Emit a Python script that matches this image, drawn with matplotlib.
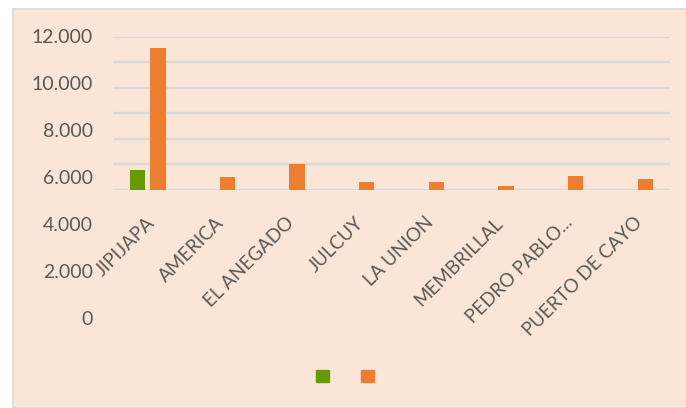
import matplotlib.pyplot as plt
from matplotlib.patches import Rectangle
from matplotlib.transforms import ScaledTranslation
import numpy as np

# Parroquias y valores por serie
parroquias = ["JIPIJAPA", "AMERICA", "EL ANEGADO", "JULCUY", "LA UNION",
              "MEMBRILLAL", "PEDRO PABLO...", "PUERTO DE CAYO"]
serie_verde = [1530, 0, 0, 0, 0, 0, 0, 0]
serie_naranja = [11070, 955, 2000, 565, 560, 300, 1060, 820]
eje_y = [0, 2000, 4000, 6000, 8000, 10000, 12000]
eje_y_textos = ["0", "2.000", "4.000", "6.000", "8.000", "10.000", "12.000"]

fondo = "#FBE5D6"
verde = "#669B00"
naranja = "#ED7D31"
gris_texto = "#595959"

plt.rcParams['font.family'] = ['Lato', 'DejaVu Sans']

fig = plt.figure(figsize=(6.86, 4.08), dpi=100)
fig.patch.set_facecolor("white")

# panel del grafico (detras de los ejes)
fig.patches.append(Rectangle((13 / 686, 0), 1, 1 - 9 / 408, transform=fig.transFigure,
                             facecolor=fondo, edgecolor="#D9D9D9", linewidth=1.2, zorder=-5))

ax = fig.add_axes([113 / 686, 1 - 189.5 / 408, 557 / 686, 153 / 408])
ax.set_facecolor("none")
x = np.arange(len(parroquias))
w = 0.22
ax.bar(x - 0.145, serie_verde, w, color=verde, zorder=3)
ax.bar(x + 0.145, serie_naranja, w, color=naranja, zorder=3)
ax.set_xlim(-0.5, len(parroquias) - 0.5)
ax.set_ylim(0, 12000)
ax.set_yticks(eje_y)
ax.set_yticklabels([])
ax.grid(axis="y", color="#D9D9D9", linewidth=1.6, zorder=0)
for s in ax.spines.values():
    s.set_visible(False)
ax.tick_params(length=0)
ax.set_xticks(x)
ax.set_xticklabels(parroquias, rotation=45, ha="right", va="center",
                   rotation_mode="anchor", color=gris_texto, fontsize=13.5)
ax.tick_params(axis="x", pad=22)
desplaza = ScaledTranslation(4 / 100, 0, fig.dpi_scale_trans)
for lbl in ax.get_xticklabels():
    lbl.set_transform(lbl.get_transform() + desplaza)

# textos del eje vertical
ax_y = fig.add_axes([113 / 686, 1 - 317.7 / 408, 557 / 686, 282 / 408])
ax_y.set_facecolor("none")
ax_y.set_ylim(0, 12000)
ax_y.set_yticks(eje_y)
ax_y.set_yticklabels(eje_y_textos, color=gris_texto, fontsize=14)
ax_y.set_xticks([])
ax_y.tick_params(length=0, pad=14.6)
for s in ax_y.spines.values():
    s.set_visible(False)

# leyenda sin textos
h1 = Rectangle((0, 0), 1, 1, color=verde)
h2 = Rectangle((0, 0), 1, 1, color=naranja)
fig.legend([h1, h2], ["", ""], loc="center", bbox_to_anchor=(345 / 686, 1 - 376.5 / 408),
           ncol=2, frameon=False, fontsize=9.4, handlelength=1, handleheight=1,
           handletextpad=0, columnspacing=2.5, borderpad=0)

fig.savefig("out.png", dpi=100)
